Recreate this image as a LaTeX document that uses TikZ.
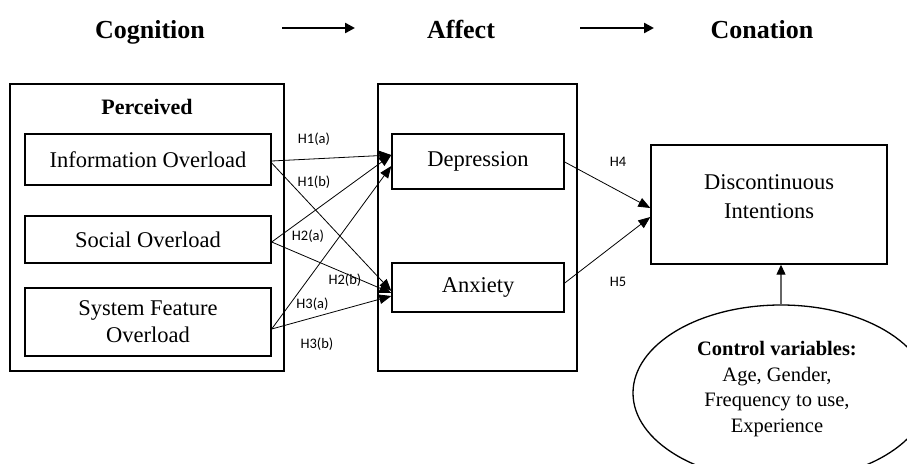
\documentclass[tikz,border=0pt]{standalone}
\usepackage{fontspec}
\setmainfont{Liberation Serif}
\newfontfamily\labfont{Carlito}
\usetikzlibrary{arrows.meta,shapes.geometric,calc}
\begin{document}
\begin{tikzpicture}[x=1pt,y=-1pt,
  box/.style={draw, line width=1.4pt, inner sep=0pt, align=center, font=\fontsize{22.5}{27}\selectfont},
  conn/.style={line width=0.8pt, -{Triangle[length=12pt,width=9.5pt]}},
  hlab/.style={font=\labfont\fontsize{14.5}{16}\selectfont, inner sep=0pt},
  title/.style={font=\bfseries\fontsize{26}{30}\selectfont, inner sep=0pt, anchor=base},
  tarrow/.style={line width=2.4pt, -{Triangle[length=10pt,width=10pt]}}]
\useasboundingbox (0,0) rectangle (907,463);
\clip (0,0) rectangle (907,463);
% titles
\node[title] (cog) at (150,38) {Cognition};
\node[title] (aff) at (461,38) {Affect};
\node[title] (con) at (762,38) {Conation};
\coordinate (t1s) at (282,28);
\coordinate (t1e) at (355,28);
\coordinate (t2s) at (580,28);
\coordinate (t2e) at (654,28);
\draw[tarrow] (t1s) -- (t1e);
\draw[tarrow] (t2s) -- (t2e);
% left group
\node[box, minimum width=274pt, minimum height=287pt] (perc) at (147,227.5) {};
\node[font=\bfseries\fontsize{22}{26}\selectfont, inner sep=0pt, anchor=base] (perct) at (147,114) {Perceived};
\node[box, minimum width=246pt, minimum height=51pt] (info) at (148,159.5) {Information Overload};
\node[box, minimum width=246pt, minimum height=47pt] (soc) at (148,239.5) {Social Overload};
\node[box, minimum width=246pt, minimum height=68pt] (sys) at (148,322) {System Feature\\Overload};
% middle group
\node[box, minimum width=199pt, minimum height=287pt] (mid) at (477.5,227.5) {};
\node[box, minimum width=172pt, minimum height=55pt] (dep) at (478,161.5) {Depression};
\node[box, minimum width=172pt, minimum height=49pt] (anx) at (478,287.5) {Anxiety};
% right
\node[box, minimum width=236pt, minimum height=119pt] (dis) at (769,204.5) {};
\node[align=center, inner sep=0pt, font=\fontsize{22.5}{29}\selectfont] (dist) at (769,197) {Discontinuous\\Intentions};
% connectors
\draw[conn] ($(info.east)+(0,1.5)$) -- ($(dep.west)+(0,-6.5)$);
\draw[conn] ($(info.east)+(0,3.5)$) -- ($(anx.west)+(0,3.5)$);
\draw[conn] ($(soc.east)+(0,2.5)$) -- ($(dep.west)+(0,-6.5)$);
\draw[conn] ($(soc.east)+(0,2.5)$) -- ($(anx.west)+(0,5.5)$);
\draw[conn] ($(sys.east)+(0,7)$) -- ($(dep.west)+(0,4.5)$);
\draw[conn] ($(sys.east)+(0,7)$) -- ($(anx.west)+(0,8.5)$);
\draw[conn] ($(dep.east)+(0,0.5)$) -- ($(dis.west)+(0,3.5)$);
\draw[conn] ($(anx.east)+(0,-4.5)$) -- ($(dis.west)+(0,12.5)$);
% labels
\node[hlab] (l1a) at (314,139) {H1(a)};
\node[hlab] (l1b) at (314,182) {H1(b)};
\node[hlab] (l2a) at (308,236) {H2(a)};
\node[hlab] (l2b) at (345,280) {H2(b)};
\node[hlab] (l3a) at (312.5,304) {H3(a)};
\node[hlab] (l3b) at (317,344) {H3(b)};
\node[hlab] (l4) at (618,162) {H4};
\node[hlab] (l5) at (618,282) {H5};
% control variables
\node[draw, ellipse, line width=1.3pt, minimum width=296pt, minimum height=176pt, inner sep=0pt] (ctrl) at (781,393) {};
\node[align=center, inner sep=0pt, font=\fontsize{20.5}{25.7}\selectfont] (ctrlt) at (777,389) {\textbf{Control variables:}\\Age, Gender,\\Frequency to use,\\Experience};
\draw[line width=1.2pt, draw=black!60, -{Triangle[length=10pt,width=9pt,color=black]}] (ctrl.north) -- (ctrl.north |- dis.south);
\end{tikzpicture}
\end{document}
